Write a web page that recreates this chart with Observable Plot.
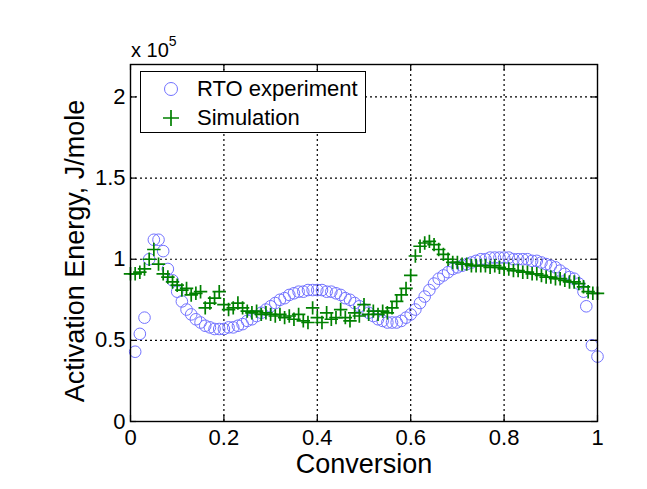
<!DOCTYPE html>
<html>
<head>
<meta charset="utf-8">
<script src="https://cdn.jsdelivr.net/npm/d3@7"></script>
<script src="https://cdn.jsdelivr.net/npm/@observablehq/plot@0.6"></script>
<style>
  html, body { margin: 0; padding: 0; background: white; }
  #wrap { position: relative; width: 647px; height: 489px; font-family: "Liberation Sans", Arial, sans-serif; color: black; }
  #mult { position: absolute; left: 131px; top: 37px; font-size: 20px; line-height: 1; white-space: nowrap; }
  #mult sup { font-size: 14px; position: relative; top: -3px; }
  #legend { position: absolute; left: 140px; top: 71px; width: 224px; height: 60px; border: 1px solid black; background: white; }
</style>
</head>
<body>
<div id="wrap">
  <div id="chart"></div>
  <div id="mult">x 10<sup>5</sup></div>
  <div id="legend"></div>
</div>
<script>
// Axis ticks and labels
const xTicks = [0, 0.2, 0.4, 0.6, 0.8, 1];
const yTicks = [0, 0.5, 1, 1.5, 2];
const xGrid = [0.2, 0.4, 0.6, 0.8];
const yGrid = [0.5, 1, 1.5, 2];
const xLabel = "Conversion";
const yLabel = "Activation Energy, J/mole";
const seriesNames = ["RTO experiment", "Simulation"];

// RTO experiment (values in units of 1e5 J/mole)
const rtoX = [0.01,0.02,0.03,0.04,0.05,0.06,0.07,0.08,0.09,0.10,
  0.11,0.12,0.13,0.14,0.15,0.16,0.17,0.18,0.19,0.20,
  0.21,0.22,0.23,0.24,0.25,0.26,0.27,0.28,0.29,0.30,
  0.31,0.32,0.33,0.34,0.35,0.36,0.37,0.38,0.39,0.40,
  0.41,0.42,0.43,0.44,0.45,0.46,0.47,0.48,0.49,0.50,
  0.51,0.52,0.53,0.54,0.55,0.56,0.57,0.58,0.59,0.60,
  0.61,0.62,0.63,0.64,0.65,0.66,0.67,0.68,0.69,0.70,
  0.71,0.72,0.73,0.74,0.75,0.76,0.77,0.78,0.79,0.80,
  0.81,0.82,0.83,0.84,0.85,0.86,0.87,0.88,0.89,0.90,
  0.91,0.92,0.93,0.94,0.95,0.96,0.97,0.976,0.988,1.0];
const rtoY = [0.43,0.54,0.64,1.00,1.12,1.12,1.05,0.94,0.87,0.80,
  0.74,0.69,0.66,0.63,0.61,0.59,0.58,0.57,0.57,0.57,
  0.58,0.58,0.59,0.60,0.62,0.63,0.65,0.67,0.69,0.71,
  0.73,0.75,0.76,0.78,0.79,0.80,0.80,0.81,0.81,0.81,
  0.81,0.80,0.80,0.79,0.78,0.76,0.75,0.73,0.71,0.69,
  0.67,0.65,0.63,0.62,0.61,0.61,0.61,0.62,0.64,0.66,
  0.69,0.73,0.77,0.81,0.85,0.88,0.90,0.92,0.94,0.95,
  0.96,0.97,0.98,0.99,1.00,1.00,1.01,1.01,1.01,1.01,
  1.01,1.00,1.00,1.00,1.00,0.99,0.99,0.98,0.97,0.96,
  0.95,0.93,0.91,0.89,0.88,0.85,0.80,0.71,0.47,0.40];

// Simulation (values in units of 1e5 J/mole)
const simX = [0.00,0.01,0.02,0.03,0.04,0.05,0.06,0.07,0.08,0.09,0.10,
  0.11,0.12,0.13,0.14,0.15,0.16,0.17,0.18,0.19,0.20,
  0.21,0.22,0.23,0.24,0.25,0.26,0.27,0.28,0.29,0.30,
  0.31,0.32,0.33,0.34,0.35,0.36,0.37,0.38,0.39,0.40,
  0.41,0.42,0.43,0.44,0.45,0.46,0.47,0.48,0.49,0.50,
  0.51,0.52,0.53,0.54,0.55,0.56,0.57,0.58,0.59,0.60,
  0.61,0.62,0.63,0.64,0.65,0.66,0.67,0.68,0.69,0.70,
  0.71,0.72,0.73,0.74,0.75,0.76,0.77,0.78,0.79,0.80,
  0.81,0.82,0.83,0.84,0.85,0.86,0.87,0.88,0.89,0.90,
  0.91,0.92,0.93,0.94,0.95,0.96,0.97,0.98,0.99,1.00];
const simY = [0.91,0.91,0.92,0.94,1.00,1.06,0.97,0.91,0.89,0.86,0.84,
  0.81,0.82,0.78,0.79,0.80,0.70,0.73,0.76,0.80,0.72,
  0.69,0.70,0.73,0.70,0.68,0.67,0.68,0.66,0.67,0.66,
  0.65,0.66,0.64,0.65,0.63,0.66,0.62,0.61,0.70,0.64,
  0.61,0.67,0.63,0.64,0.69,0.64,0.62,0.67,0.65,0.72,
  0.66,0.68,0.66,0.68,0.67,0.70,0.74,0.78,0.82,0.90,
  1.02,1.08,1.10,1.11,1.09,1.06,1.03,1.00,0.98,0.98,
  0.97,0.97,0.96,0.96,0.96,0.96,0.95,0.96,0.95,0.94,
  0.94,0.93,0.93,0.92,0.92,0.91,0.91,0.90,0.89,0.89,
  0.88,0.88,0.87,0.86,0.86,0.85,0.83,0.80,0.79,0.79];

const rto = rtoX.map((x, i) => ({x, y: rtoY[i]}));
const sim = simX.map((x, i) => ({x, y: simY[i]}));

const circleColor = "#7272ff";
const plusColor = "#008000";

const fmt = d => String(d);
const chart = Plot.plot({
  width: 647,
  height: 489,
  marginLeft: 130,
  marginRight: 50,
  marginTop: 64,
  marginBottom: 68,
  x: {domain: [0, 1]},
  y: {domain: [0, 2.2]},
  style: {fontFamily: "'Liberation Sans', Arial, sans-serif", fontSize: "22px", color: "black", background: "white"},
  marks: [
    Plot.ruleX(xGrid, {stroke: "black", strokeWidth: 1.2, strokeDasharray: "2,3"}),
    Plot.ruleY(yGrid, {stroke: "black", strokeWidth: 1.2, strokeDasharray: "2,3"}),
    Plot.dot(rto, {x: "x", y: "y", r: 5.8, stroke: circleColor, strokeWidth: 1, fill: "none"}),
    Plot.dot(sim, {x: "x", y: "y", symbol: "plus", r: 4.4, stroke: plusColor, strokeWidth: 1.7}),
    Plot.frame({stroke: "black", strokeWidth: 1.4}),
    // inward tick marks on all four sides
    Plot.ruleX(xTicks, {stroke: "black", strokeWidth: 1.2, insetTop: 351}),
    Plot.ruleX(xTicks, {stroke: "black", strokeWidth: 1.2, insetBottom: 351}),
    Plot.ruleY(yTicks, {stroke: "black", strokeWidth: 1.2, insetRight: 461}),
    Plot.ruleY(yTicks, {stroke: "black", strokeWidth: 1.2, insetLeft: 461}),
    Plot.axisX({ticks: xTicks, tickSize: 0, tickPadding: 8, tickFormat: fmt, label: null, fontSize: 22}),
    Plot.axisY({ticks: yTicks, tickSize: 0, tickPadding: 5, tickFormat: fmt, label: null, fontSize: 22}),
    Plot.text([xLabel], {text: d => d, frameAnchor: "bottom", lineAnchor: "middle", dy: 43, fontSize: 27}),
    Plot.text([yLabel], {text: d => d, frameAnchor: "left", textAnchor: "middle", lineAnchor: "middle", dx: -55, dy: 8, rotate: -90, fontSize: 27})
  ]
});
document.getElementById("chart").appendChild(chart);

// Legend
const lg = d3.select("#legend").append("svg").attr("width", 224).attr("height", 60)
  .style("font-family", "'Liberation Sans', Arial, sans-serif");
lg.append("circle").attr("cx", 30).attr("cy", 17).attr("r", 6.5)
  .attr("fill", "none").attr("stroke", circleColor).attr("stroke-width", 1);
lg.append("path").attr("d", "M22,46H38M30,38V54").attr("stroke", plusColor).attr("stroke-width", 1.7);
lg.append("text").attr("x", 56).attr("y", 24).attr("font-size", 22).text(seriesNames[0]);
lg.append("text").attr("x", 56).attr("y", 53).attr("font-size", 22).text(seriesNames[1]);
</script>
</body>
</html>
